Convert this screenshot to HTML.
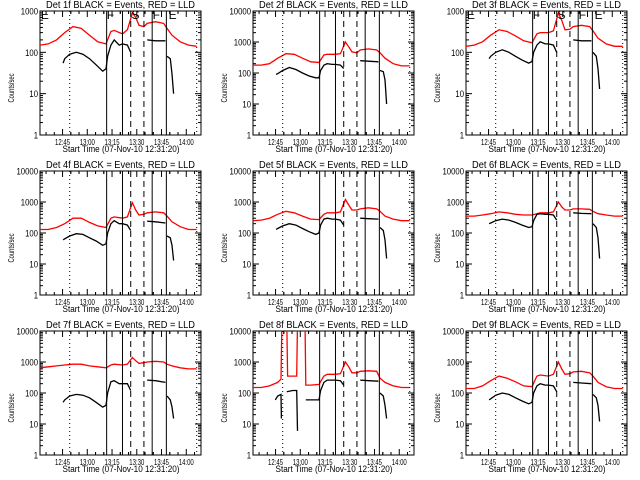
<!DOCTYPE html>
<html><head><meta charset="utf-8"><style>
html,body{margin:0;padding:0;background:#fff;}
svg{display:block;font-family:"Liberation Sans",sans-serif;}
</style></head><body>
<svg id="chart" width="640" height="480" viewBox="0 0 640 480" xmlns="http://www.w3.org/2000/svg"></svg>
<script>
// ---- data ----
const panelTitles = ["Det 1f BLACK = Events, RED = LLD","Det 2f BLACK = Events, RED = LLD","Det 3f BLACK = Events, RED = LLD",
 "Det 4f BLACK = Events, RED = LLD","Det 5f BLACK = Events, RED = LLD","Det 6f BLACK = Events, RED = LLD",
 "Det 7f BLACK = Events, RED = LLD","Det 8f BLACK = Events, RED = LLD","Det 9f BLACK = Events, RED = LLD"];
const yDecades = [3,4,3,4,4,4,4,4,4];
const xTickLabels = ["12:45","13:00","13:15","13:30","13:45","14:00"];
const xTickMinutes = [13.67,28.67,43.67,58.67,73.67,88.67]; // minutes after 12:31:20
const solidLines = [40.4,50,68,76.6];
const dashedLines = [55,63];
const dottedLines = [18,95];
const markerLetters = ["E","F","S","F","E"];
const markerMinutes = [0.5,40.5,55.5,68.3,78];
const redT = [0,5,10,15,20,25,30,35,40,43,45,50,53,56,58,60,63,65,70,75,77,80,85,90,95];
const red1 = [150,160,200,300,420,380,260,180,160,320,340,280,350,900,700,450,420,500,550,500,380,260,180,150,140];
const red2 = [180,180,200,300,420,400,300,230,220,380,400,400,420,1000,700,480,450,550,600,550,450,300,200,170,170];
const red3 = [140,150,180,260,350,320,250,190,170,280,300,300,330,900,600,350,360,420,450,420,330,220,160,140,140];
const red4 = [130,130,150,200,300,300,220,170,150,300,330,300,330,950,550,380,400,450,480,450,350,230,160,130,130];
const red5 = [250,260,300,400,500,450,350,280,270,400,450,450,480,1200,800,550,550,600,650,600,500,350,280,250,250];
const red6 = [350,350,380,420,480,450,400,380,380,420,450,450,480,1000,700,550,550,600,600,580,500,420,380,350,350];
const red7 = [650,700,750,800,850,850,750,700,650,800,850,800,850,1400,1100,900,950,1000,1050,1000,850,750,650,600,600];
const red8T = [0,5,10,15,17,17.5,20.5,21,26.5,27,31.5,32,35,40,43,45,50,53,56,58,60,63,65,70,75,77,80,85,90,95];
const red8 = [150,150,170,220,280,20000,20000,350,350,20000,20000,180,180,190,350,400,400,420,1000,700,450,450,500,520,500,300,220,170,150,150];
const red9 = [140,140,170,250,350,300,230,170,160,350,380,350,400,1000,600,400,420,480,500,450,350,220,160,140,140];
const blackT = [14,15,18,22,26,30,34,38,40,41,43,45,48,50,53,55,null,65,70,76,null,77,79,80,81];
const black1 = [55,70,90,100,90,70,50,35,40,80,150,200,150,160,150,100,null,200,190,190,null,80,70,30,10];
const black2 = [90,95,120,150,130,100,80,70,70,120,180,200,190,190,180,140,null,250,240,230,null,120,110,60,10];
const black3 = [70,80,100,115,100,80,65,55,60,100,150,180,160,160,150,100,null,200,190,190,null,100,80,40,13];
const black4 = [60,65,80,95,90,70,55,40,45,100,200,250,200,200,180,120,null,240,230,210,null,80,70,40,13];
const black5 = [130,140,170,200,180,140,110,90,100,180,280,300,280,280,260,180,null,300,290,280,null,150,120,60,15];
const black6 = [200,210,250,280,260,220,180,150,160,250,400,420,400,400,380,260,null,450,430,420,null,200,150,70,15];
const black7 = [50,60,80,90,85,70,50,35,40,100,230,250,200,200,200,120,null,260,250,220,null,80,60,35,15];
const black8T = [13.5,15,17,17.2,null,20.5,24,26.5,27,null,32,36,40,41,43,45,48,50,53,55,null,65,70,76,null,77,79,80,81];
const black8 = [60,80,90,15,null,110,120,120,6,null,60,60,60,120,220,260,260,260,250,180,null,260,250,240,null,100,80,40,15];
const black9 = [60,65,85,100,90,70,55,45,50,100,170,200,180,180,170,110,null,220,210,200,null,90,70,40,12];

const redTimes = [redT,redT,redT,redT,redT,redT,redT,red8T,redT];
const redVals = [red1,red2,red3,red4,red5,red6,red7,red8,red9];
const blackTimes = [blackT,blackT,blackT,blackT,blackT,blackT,blackT,black8T,blackT];
const blackVals = [black1,black2,black3,black4,black5,black6,black7,black8,black9];

// ---- drawing ----
const NS="http://www.w3.org/2000/svg";
const svg=document.getElementById('chart');
function mk(tag,attrs,parent){const e=document.createElementNS(NS,tag);for(const k in attrs)e.setAttribute(k,attrs[k]);(parent||svg).appendChild(e);return e;}
const T0=0,T1=97.6;
for(let p=0;p<9;p++){
  const col=p%3,row=Math.floor(p/3);
  const ox=col*213, oy=row*160;
  const L=ox+40,R=ox+201,Tp=oy+11,B=oy+135;
  const dec=yDecades[p];
  const xs=t=>L+(t-T0)/(T1-T0)*(R-L);
  const ys=v=>B-Math.log10(Math.max(v,1e-3))/dec*(B-Tp);
  const g=mk('g',{});
  
  
  const clipId='clip'+p;
  const cp=mk('clipPath',{id:clipId},g);mk('rect',{x:L,y:Tp,width:R-L,height:B-Tp},cp);
  // title
  const tt=mk('text',{x:ox+46,y:oy+8,'font-size':'10',textLength:'149',lengthAdjust:'spacingAndGlyphs'},g);
  tt.textContent=panelTitles[p];
  
  
  // axes box
  const box=mk('rect',{x:L,y:Tp,width:R-L,height:B-Tp,fill:'none',stroke:'#000','stroke-width':1},g);
  
  
  // y ticks
  for(let d=0;d<=dec;d++){
    const y=ys(Math.pow(10,d));
    mk('line',{x1:L,x2:L+6,y1:y,y2:y,stroke:'#000'},g);
    mk('line',{x1:R,x2:R-6,y1:y,y2:y,stroke:'#000'},g);
    const s=String(Math.pow(10,d));
    const lb=mk('text',{x:L-2,y:y+3.5,'text-anchor':'end','font-size':'9',textLength:String(s.length*4.3),lengthAdjust:'spacingAndGlyphs'},g);
    lb.textContent=s;
    
    
    if(d<dec){for(let m=2;m<=9;m++){const yy=ys(m*Math.pow(10,d));
      mk('line',{x1:L,x2:L+3,y1:yy,y2:yy,stroke:'#000'},g);
      mk('line',{x1:R,x2:R-3,y1:yy,y2:yy,stroke:'#000'},g);}}
  }
  // x ticks
  xTickMinutes.forEach((t,i)=>{const x=xs(t);
    mk('line',{x1:x,x2:x,y1:B,y2:B-6,stroke:'#000'},g);
    mk('line',{x1:x,x2:x,y1:Tp,y2:Tp+6,stroke:'#000'},g);
    const lb=mk('text',{x:x,y:B+10,'text-anchor':'middle','font-size':'8.5',textLength:'15',lengthAdjust:'spacingAndGlyphs'},g);
    lb.textContent=xTickLabels[i];
    
    
    for(let k=-2;k<=2;k++){if(k===0)continue;const tm=t+k*5;if(tm<T0||tm>T1)continue;const xm=xs(tm);
      mk('line',{x1:xm,x2:xm,y1:B,y2:B-3,stroke:'#000'},g);mk('line',{x1:xm,x2:xm,y1:Tp,y2:Tp+3,stroke:'#000'},g);}
  });
  const xl=mk('text',{x:ox+121,y:oy+152,'text-anchor':'middle','font-size':'9.5',textLength:'117',lengthAdjust:'spacingAndGlyphs'},g);
  xl.textContent='Start Time (07-Nov-10 12:31:20)';
  
  
  const yl=mk('text',{x:0,y:0,'text-anchor':'middle','font-size':'8',textLength:'29',lengthAdjust:'spacingAndGlyphs',transform:`translate(${ox+14},${oy+88}) rotate(-90)`},g);
  yl.textContent='Counts/sec';
  
  
  // series
  function pathFrom(ts,vs){let d='',pen=false;for(let i=0;i<ts.length;i++){if(ts[i]===null||vs[i]===null){pen=false;continue;}
    d+=(pen?'L':'M')+xs(ts[i]).toFixed(1)+' '+ys(vs[i]).toFixed(1)+' ';pen=true;}return d;}
  const rp=mk('path',{d:pathFrom(redTimes[p],redVals[p]),fill:'none',stroke:'#ff0000','stroke-width':1.3,'clip-path':`url(#${clipId})`},g);
  
  
  const bp=mk('path',{d:pathFrom(blackTimes[p],blackVals[p]),fill:'none',stroke:'#000','stroke-width':1.3,'clip-path':`url(#${clipId})`},g);
  
  
  // vertical markers
  solidLines.forEach(t=>{const x=xs(t);const l=mk('line',{x1:x,x2:x,y1:Tp,y2:B,stroke:'#000','stroke-width':1},g);
    });
  dashedLines.forEach(t=>{const x=xs(t);const l=mk('line',{x1:x,x2:x,y1:Tp,y2:B,stroke:'#000','stroke-dasharray':'6,4'},g);
    });
  dottedLines.forEach(t=>{const x=xs(t);const l=mk('line',{x1:x,x2:x,y1:Tp,y2:B,stroke:'#000','stroke-dasharray':'1,3'},g);
    });
  if(dec===3){markerLetters.forEach((s,i)=>{const tx=mk('text',{x:xs(markerMinutes[i]),y:Tp+8,'font-size':'12'},g);
    tx.textContent=s;});}
}
</script>
</body></html>
